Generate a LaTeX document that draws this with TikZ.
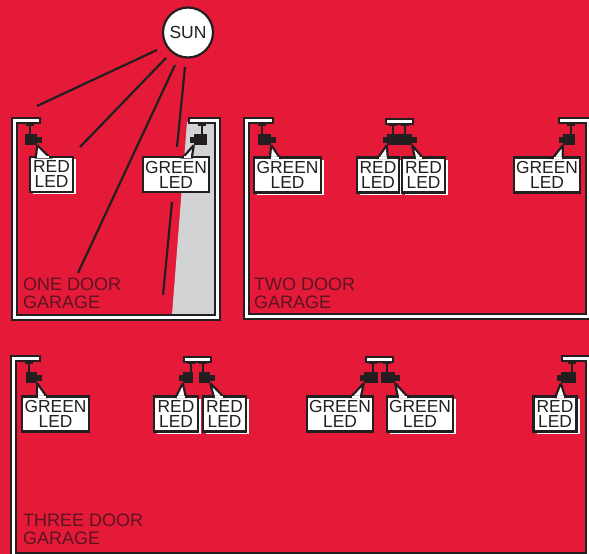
\documentclass[tikz,border=0pt]{standalone}
\usepackage{xcolor}
\usepackage{fontspec}
\setmainfont{Liberation Sans}
\usetikzlibrary{calc, shadows}
\definecolor{myred}{RGB}{229,26,56}
\definecolor{myink}{RGB}{35,31,32}
\definecolor{mymaroon}{RGB}{92,20,36}
\definecolor{mygray}{RGB}{209,211,212}
\tikzset{
  wall/.style={draw=myink, line width=6.8pt, miter limit=10,
    postaction={draw=white, line width=2.4pt, shorten <=2pt, shorten >=2pt}},
  mount/.style={rectangle, draw=myink, fill=white, line width=2.4pt,
    minimum width=27pt, minimum height=5pt, inner sep=0pt},
  lamp/.style={rectangle, fill=myink, inner sep=0pt, minimum height=11pt},
  ledbox/.style={rectangle, draw=myink, fill=white, line width=2.3pt, inner sep=0pt,
    minimum height=35pt, align=center, text=myink,
    font=\fontsize{17.4}{15}\selectfont},
  shadowbox/.style={ledbox, copy shadow={draw=none, fill=white, opacity=1,
    shadow xshift=3pt, shadow yshift=-2pt}},
  sun/.style={circle, draw=myink, fill=white, line width=2.2pt, minimum size=50pt,
    inner sep=0pt, text=myink, font=\fontsize{17.5}{18}\selectfont},
  garage/.style={anchor=north west, align=left, inner sep=0pt, text=mymaroon,
    font=\fontsize{18}{17.5}\selectfont},
  ray/.style={draw=myink, line width=2.2pt},
  stem/.style={draw=myink, line width=2.4pt},
  nub/.style={draw=myink, line width=6pt},
  callout/.style={draw=myink, fill=white, line width=2.2pt}
}
\begin{document}
\begin{tikzpicture}[x=1pt, y=-1pt]
  \useasboundingbox (0,0) rectangle (589,554);
  \fill[myred] (0,0) rectangle (589,554);
  \fill[mygray] (187,122) -- (215,122) -- (215,315) -- (172,315) -- cycle;

  % garage walls
  \draw[wall] (41,120.5) -- (14.5,120.5) -- (14.5,317.5) -- (217.5,317.5) -- (217.5,120.5) -- (188,120.5);
  \draw[wall] (274,120.5) -- (246.5,120.5) -- (246.5,316.5) -- (588.5,316.5) -- (588.5,120.5) -- (558,120.5);
  \draw[wall] (41,358.5) -- (13.5,358.5) -- (13.5,555) -- (588.5,555) -- (588.5,358.5) -- (561,358.5);
  \node[mount] (mtwo) at (399.5,121.5) {};
  \node[mount] (mthreea) at (197.5,359.5) {};
  \node[mount] (mthreeb) at (379.5,359.5) {};

  % sun and rays
  \node[sun] (sun) at (188,32.5) {SUN};
  \coordinate (ra) at (37,106);
  \coordinate (rb) at (80,147);
  \coordinate (rc) at (78,273);
  \coordinate (rd) at (177,147);
  \coordinate (re) at (172,202);
  \coordinate (rf) at (163,295);
  \draw[ray] ($(sun)+(-31,17.5)$) -- (ra);
  \draw[ray] ($(sun)+(-22,25.5)$) -- (rb);
  \draw[ray] ($(sun)+(-13,32.5)$) -- (rc);
  \draw[ray] ($(sun)+(-3,34.5)$) -- (rd);
  \draw[ray] (re) -- (rf);

  % lamps
  \coordinate (sa) at (30,124);
  \coordinate (sb) at (202,124);
  \coordinate (sc) at (262,124);
  \coordinate (sd) at (393,124);
  \coordinate (se) at (405,124);
  \coordinate (sf) at (571,124);
  \coordinate (sg) at (29,362);
  \coordinate (sh) at (191,362);
  \coordinate (si) at (203,362);
  \coordinate (sj) at (373,362);
  \coordinate (sk) at (387,362);
  \coordinate (sl) at (572,362);
  \node[lamp, minimum width=12pt] (la) at (31,139.5) {};
  \node[lamp, minimum width=13pt] (lb) at (200.5,139.5) {};
  \node[lamp, minimum width=13pt] (lc) at (264.5,139.5) {};
  \node[lamp, minimum width=25pt] (ld) at (399.5,139.5) {};
  \node[lamp, minimum width=12pt] (lf) at (569,139.5) {};
  \node[lamp, minimum width=11pt] (lg) at (31.5,377.5) {};
  \node[lamp, minimum width=10pt] (lh) at (188,377.5) {};
  \node[lamp, minimum width=11pt] (li) at (204.5,377.5) {};
  \node[lamp, minimum width=14pt] (lj) at (371,377.5) {};
  \node[lamp, minimum width=14pt] (lk) at (388,377.5) {};
  \node[lamp, minimum width=15pt] (ll) at (568.5,377.5) {};
  \foreach \s/\l in {sa/la, sb/lb, sc/lc, sd/ld, se/ld, sf/lf, sg/lg, sh/lh, si/li, sj/lj, sk/lk, sl/ll} {
    \draw[stem] (\s) -- (\s |- \l.north);
    \draw[stem] ($(\s)+(-4,0.5)$) -- ($(\s)+(4,0.5)$);
  }
  \foreach \l in {la, lc, ld, lg, li, lk}
    \draw[nub] (\l.east) -- ++(4.5,0);
  \foreach \l in {lb, ld, lf, lh, lj, ll}
    \draw[nub] (\l.west) -- ++(-4,0);

  % labels
  \node[shadowbox, minimum width=43pt] (tred) at (51.5,174.5) {RED\\LED};
  \node[ledbox, minimum width=66pt] (tgreen) at (176,174.5) {GREEN\\LED};
  \node[shadowbox, minimum width=67pt] (tga) at (287.5,175) {GREEN\\LED};
  \node[shadowbox, minimum width=42pt] (tra) at (378,175) {RED\\LED};
  \node[shadowbox, minimum width=43pt] (trb) at (423.5,175) {RED\\LED};
  \node[ledbox, minimum width=66pt] (tgb) at (547,175) {GREEN\\LED};
  \node[ledbox, minimum width=67pt] (tgc) at (55.5,414) {GREEN\\LED};
  \node[shadowbox, minimum width=44pt] (trc) at (176,414) {RED\\LED};
  \node[shadowbox, minimum width=43pt] (trd) at (224.5,414) {RED\\LED};
  \node[ledbox, minimum width=66pt] (tge) at (340,414) {GREEN\\LED};
  \node[shadowbox, minimum width=66pt] (tgf) at (420,414) {GREEN\\LED};
  \node[shadowbox, minimum width=43pt] (tre) at (555,414) {RED\\LED};
  \foreach \l/\a/\t/\u/\v in {la/south east/tred/7/21, lb/south west/tgreen/41/50,
      lc/south east/tga/17/27, ld/south west/tra/22/32, ld/south east/trb/14/22,
      lf/south west/tgb/40/50, lg/south east/tgc/16/26, lh/south west/trc/23/33,
      li/south east/trd/12/22, lj/south west/tge/45/55, lk/south east/tgf/12/22,
      ll/south west/tre/23/33} {
    \draw[callout] (\l.\a) -- ($(\t.north west)+(\u,1.6)$) -- ($(\t.north west)+(\v,1.6)$) -- (\l.\a);
    \fill[white] ($(\t.north west)+(\u+1.2,0.4)$) rectangle ($(\t.north west)+(\v-1.2,2.2)$);
  }

  \node[garage] (gone) at (23,278) {ONE DOOR\\GARAGE};
  \node[garage] (gtwo) at (254,278) {TWO DOOR\\GARAGE};
  \node[garage] (gthree) at (23,514) {THREE DOOR\\GARAGE};
\end{tikzpicture}
\end{document}
